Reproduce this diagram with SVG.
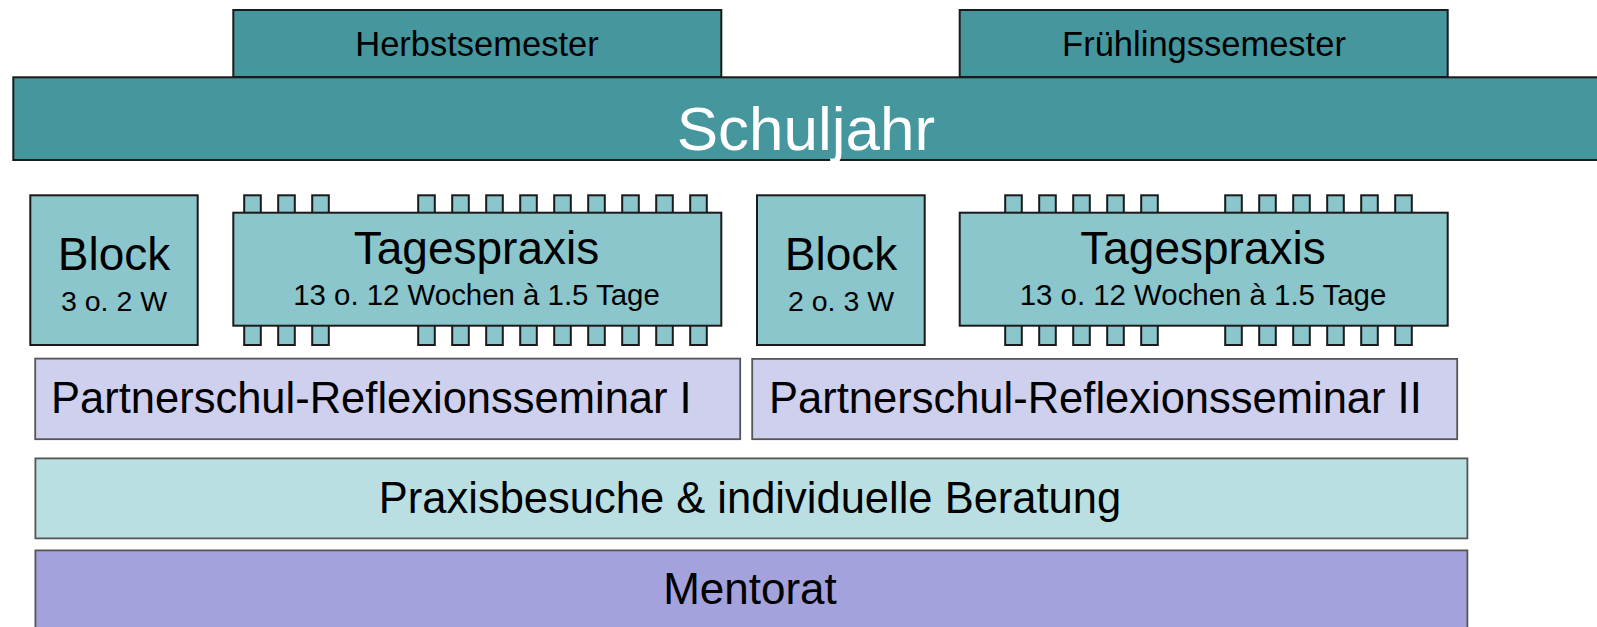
<svg xmlns="http://www.w3.org/2000/svg" width="1597" height="627" viewBox="0 0 1597 627">
  <style>
    .dark { fill: #46969e; stroke: #1a1a1a; stroke-width: 2; }
    .light { fill: #8ac6cc; stroke: #1a1a1a; stroke-width: 2; }
    .pin { fill: #8ac6cc; stroke: #1a1a1a; stroke-width: 2; }
    .seminar { fill: #cfcfee; stroke: #555; stroke-width: 1.8; }
    .visit { fill: #b9dfe2; stroke: #555; stroke-width: 1.8; }
    .mentor { fill: #a3a2dc; stroke: #555; stroke-width: 1.8; }
    text { font-family: "Liberation Sans", Arial, Helvetica, sans-serif; fill: #000; }
    .c { text-anchor: middle; }
  </style>
  <defs>
    <rect id="pin" class="pin" x="-0.8" width="16.6" height="24"/>
  </defs>

  <rect width="1597" height="627" fill="#ffffff"/>

  <!-- semesters sit on top of the school-year bar -->
  <g id="herbstsemester">
    <rect class="dark" x="233.3" y="10" width="488" height="67"/>
    <text class="c" x="477" y="56" font-size="34.5">Herbstsemester</text>
  </g>
  <g id="fruehlingssemester">
    <rect class="dark" x="959.7" y="10" width="488" height="67"/>
    <text class="c" x="1204" y="56" font-size="34.5">Frühlingssemester</text>
  </g>
  <g id="schuljahr">
    <rect class="dark" x="13.3" y="77.3" width="1600" height="82.7"/>
    <text class="c" x="806" y="149.5" font-size="62" style="fill:#ffffff">Schuljahr</text>
  </g>

  <!-- practice phases -->
  <g id="block1">
    <rect class="light" x="30.3" y="195.3" width="167.4" height="149.7"/>
    <text class="c" x="114" y="270" font-size="46">Block</text>
    <text class="c" x="114" y="310.5" font-size="28.5">3 o. 2 W</text>
  </g>
  <g id="tagespraxis1">
    <g>
      <use href="#pin" x="245" y="195.3"/>
      <use href="#pin" x="279" y="195.3"/>
      <use href="#pin" x="313" y="195.3"/>
      <use href="#pin" x="419" y="195.3"/>
      <use href="#pin" x="453" y="195.3"/>
      <use href="#pin" x="487" y="195.3"/>
      <use href="#pin" x="521" y="195.3"/>
      <use href="#pin" x="555" y="195.3"/>
      <use href="#pin" x="589" y="195.3"/>
      <use href="#pin" x="623" y="195.3"/>
      <use href="#pin" x="657" y="195.3"/>
      <use href="#pin" x="691" y="195.3"/>
      <use href="#pin" x="245" y="321"/>
      <use href="#pin" x="279" y="321"/>
      <use href="#pin" x="313" y="321"/>
      <use href="#pin" x="419" y="321"/>
      <use href="#pin" x="453" y="321"/>
      <use href="#pin" x="487" y="321"/>
      <use href="#pin" x="521" y="321"/>
      <use href="#pin" x="555" y="321"/>
      <use href="#pin" x="589" y="321"/>
      <use href="#pin" x="623" y="321"/>
      <use href="#pin" x="657" y="321"/>
      <use href="#pin" x="691" y="321"/>
    </g>
    <rect class="light" x="233.3" y="212.7" width="488" height="113"/>
    <text class="c" x="476.5" y="264" font-size="46">Tagespraxis</text>
    <text class="c" x="476.5" y="305" font-size="29.4">13 o. 12 Wochen à 1.5 Tage</text>
  </g>
  <g id="block2">
    <rect class="light" x="757" y="195.3" width="167.7" height="149.7"/>
    <text class="c" x="841" y="270" font-size="46">Block</text>
    <text class="c" x="841" y="310.5" font-size="28.5">2 o. 3 W</text>
  </g>
  <g id="tagespraxis2">
    <g>
      <use href="#pin" x="1006" y="195.3"/>
      <use href="#pin" x="1040" y="195.3"/>
      <use href="#pin" x="1074" y="195.3"/>
      <use href="#pin" x="1108" y="195.3"/>
      <use href="#pin" x="1142" y="195.3"/>
      <use href="#pin" x="1226" y="195.3"/>
      <use href="#pin" x="1260" y="195.3"/>
      <use href="#pin" x="1294" y="195.3"/>
      <use href="#pin" x="1328" y="195.3"/>
      <use href="#pin" x="1362" y="195.3"/>
      <use href="#pin" x="1396" y="195.3"/>
      <use href="#pin" x="1006" y="321"/>
      <use href="#pin" x="1040" y="321"/>
      <use href="#pin" x="1074" y="321"/>
      <use href="#pin" x="1108" y="321"/>
      <use href="#pin" x="1142" y="321"/>
      <use href="#pin" x="1226" y="321"/>
      <use href="#pin" x="1260" y="321"/>
      <use href="#pin" x="1294" y="321"/>
      <use href="#pin" x="1328" y="321"/>
      <use href="#pin" x="1362" y="321"/>
      <use href="#pin" x="1396" y="321"/>
    </g>
    <rect class="light" x="959.7" y="212.7" width="488" height="113"/>
    <text class="c" x="1203" y="264" font-size="46">Tagespraxis</text>
    <text class="c" x="1203" y="305" font-size="29.4">13 o. 12 Wochen à 1.5 Tage</text>
  </g>

  <!-- accompanying courses -->
  <g id="reflexionsseminar1">
    <rect class="seminar" x="35.2" y="358.6" width="705" height="80.6"/>
    <text x="51" y="412.5" font-size="43.5">Partnerschul-Reflexionsseminar I</text>
  </g>
  <g id="reflexionsseminar2">
    <rect class="seminar" x="752.2" y="358.9" width="705" height="80.3"/>
    <text x="769" y="412.5" font-size="43.5">Partnerschul-Reflexionsseminar II</text>
  </g>
  <g id="praxisbesuche">
    <rect class="visit" x="35.4" y="458.4" width="1432" height="80"/>
    <text class="c" x="750" y="512.5" font-size="43.5">Praxisbesuche &amp; individuelle Beratung</text>
  </g>
  <g id="mentorat">
    <rect class="mentor" x="35.4" y="550.4" width="1432" height="90"/>
    <text class="c" x="750" y="604" font-size="44">Mentorat</text>
  </g>

  <g id="connectors"/>
</svg>
